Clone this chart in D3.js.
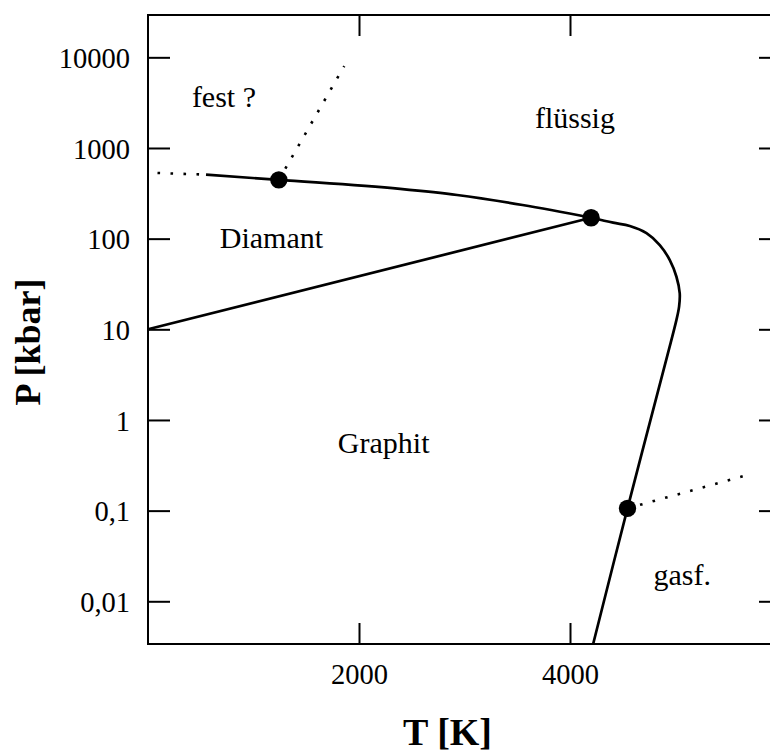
<!DOCTYPE html>
<html>
<head>
    <meta charset="utf-8">
    <title>Phasendiagramm Kohlenstoff</title>
    <script src="https://d3js.org/d3.v7.min.js"></script>
    <style>
        body { margin: 0; background: #fff; }
        text { font-family: "Liberation Serif", "Times New Roman", serif; fill: #000; }
    </style>
</head>
<body>
<div id="chart"></div>

<script type="text/javascript">
    // T in K, P in kbar
    const xTicks = [2000, 4000];
    const xTickLabels = ["2000", "4000"];
    const yTicks = [10000, 1000, 100, 10, 1, 0.1, 0.01];
    const yTickLabels = ["10000", "1000", "100", "10", "1", "0,1", "0,01"];

    // Diamant / Graphit
    const diamondGraphite = [[0, 10], [4200, 170]];
    // Schmelzkurve Diamant
    const meltDiamondDotted = [[90, 530], [550, 508]];
    const meltDiamond = [[550, 508], [1240, 445], [2390, 354], [2930, 303], [3550, 235], [4200, 170]];
    // Schmelz- und Sublimationskurve Graphit
    const meltGraphite = [[4200, 170], [4409, 150], [4567, 138], [4725, 115], [4851, 85], [4946, 58],
                          [5009, 38], [5040, 25], [5034, 17.8], [5009, 12.7], [4920, 5.0], [4545, 0.106], [4220, 0.0034]];
    // unsichere Grenzen
    const solidBoundary = [[1240, 445], [1860, 8000]];
    const gasBoundary = [[4545, 0.106], [5640, 0.24]];
    const triplePoints = [[1240, 445], [4200, 170], [4545, 0.106]];

    const phaseNames = ["fest ?", "Diamant", "flüssig", "Graphit", "gasf."];
    const phaseT = [720, 1170, 4047, 2234, 5064];
    const phaseP = [2845, 79, 1667, 0.43, 0.015];

    function render() {
        let margin = {top: 15, left: 148};
        let w = 633;
        let h = 629;

        let svg = d3.select("#chart")
                .append("svg")
                    .attr("width", 770)
                    .attr("height", 751)
                .append("g")
                    .attr("transform", "translate(" + margin.left + "," + margin.top + ")");

        let xScale = d3.scaleLinear()
                    .domain([0, 6000])
                    .range([0, w]);

        let yScale = d3.scaleLog()
                    .domain([0.00338, 29300])
                    .range([h, 0]);

        // Rahmen
        svg.append("rect")
            .attr("x", 0)
            .attr("y", 0)
            .attr("width", w)
            .attr("height", h)
            .attr("fill", "none")
            .attr("stroke", "#000")
            .attr("stroke-width", 2);

        let xAxis = d3.axisBottom(xScale)
                    .tickValues(xTicks)
                    .tickFormat((d, i) => xTickLabels[i])
                    .tickSizeInner(-21)
                    .tickSizeOuter(0)
                    .tickPadding(20);

        let xAxisTop = d3.axisTop(xScale)
                    .tickValues(xTicks)
                    .tickFormat("")
                    .tickSizeInner(-21)
                    .tickSizeOuter(0);

        let yAxis = d3.axisLeft(yScale)
                    .tickValues(yTicks)
                    .tickFormat((d, i) => yTickLabels[i])
                    .tickSizeInner(-22)
                    .tickSizeOuter(0)
                    .tickPadding(18);

        let yAxisRight = d3.axisRight(yScale)
                    .tickValues(yTicks)
                    .tickFormat("")
                    .tickSizeInner(-22)
                    .tickSizeOuter(0);

        let gx = svg.append("g").attr("transform", "translate(0," + h + ")").call(xAxis);
        let gxt = svg.append("g").call(xAxisTop);
        let gy = svg.append("g").call(yAxis);
        let gyr = svg.append("g").attr("transform", "translate(" + w + ",0)").call(yAxisRight);

        [gx, gxt, gy, gyr].forEach(function(g) {
            g.select(".domain").remove();
            g.selectAll(".tick line").attr("stroke", "#000").attr("stroke-width", 2);
            g.selectAll(".tick text")
                .attr("font-family", "Liberation Serif, Times New Roman, serif")
                .attr("font-size", "28.5px")
                .attr("fill", "#000");
        });
        gx.selectAll(".tick text").attr("dy", "0.71em");
        gy.selectAll(".tick text").attr("dy", "0.36em");

        let line = d3.line()
                    .x(d => xScale(d[0]))
                    .y(d => yScale(d[1]));

        let curves = svg.append("g").attr("fill", "none").attr("stroke", "#000");

        curves.append("path")
            .datum(diamondGraphite)
            .attr("d", line)
            .attr("stroke-width", 2.7);

        curves.append("path")
            .datum(meltDiamond)
            .attr("d", line.curve(d3.curveMonotoneX))
            .attr("stroke-width", 2.7);

        curves.append("path")
            .datum(meltGraphite)
            .attr("d", line.curve(d3.curveCatmullRom.alpha(0.5)))
            .attr("stroke-width", 2.7);

        line.curve(d3.curveLinear);

        [meltDiamondDotted, solidBoundary, gasBoundary].forEach(function(seg) {
            curves.append("path")
                .datum(seg)
                .attr("d", line)
                .attr("stroke-width", 2.6)
                .attr("stroke-dasharray", "2.6,10.4");
        });

        svg.selectAll("circle")
            .data(triplePoints)
            .enter()
            .append("circle")
            .attr("cx", d => xScale(d[0]))
            .attr("cy", d => yScale(d[1]))
            .attr("r", 8.7)
            .attr("fill", "#000");

        svg.selectAll(".phase")
            .data(phaseNames)
            .enter()
            .append("text")
            .attr("class", "phase")
            .attr("x", (d, i) => xScale(phaseT[i]))
            .attr("y", (d, i) => yScale(phaseP[i]))
            .attr("text-anchor", "middle")
            .attr("font-size", "30px")
            .text(d => d);

        // Achsenbeschriftung
        svg.append("text")
            .attr("x", 447.5 - margin.left)
            .attr("y", 745 - margin.top)
            .attr("text-anchor", "middle")
            .attr("font-size", "38px")
            .attr("font-weight", "bold")
            .text("T [K]");

        svg.append("text")
            .attr("transform", "translate(" + (40 - margin.left) + "," + (342 - margin.top) + ") rotate(-90)")
            .attr("text-anchor", "middle")
            .attr("font-size", "36px")
            .attr("font-weight", "bold")
            .text("P [kbar]");
    }

    render();
</script>
</body>
</html>
